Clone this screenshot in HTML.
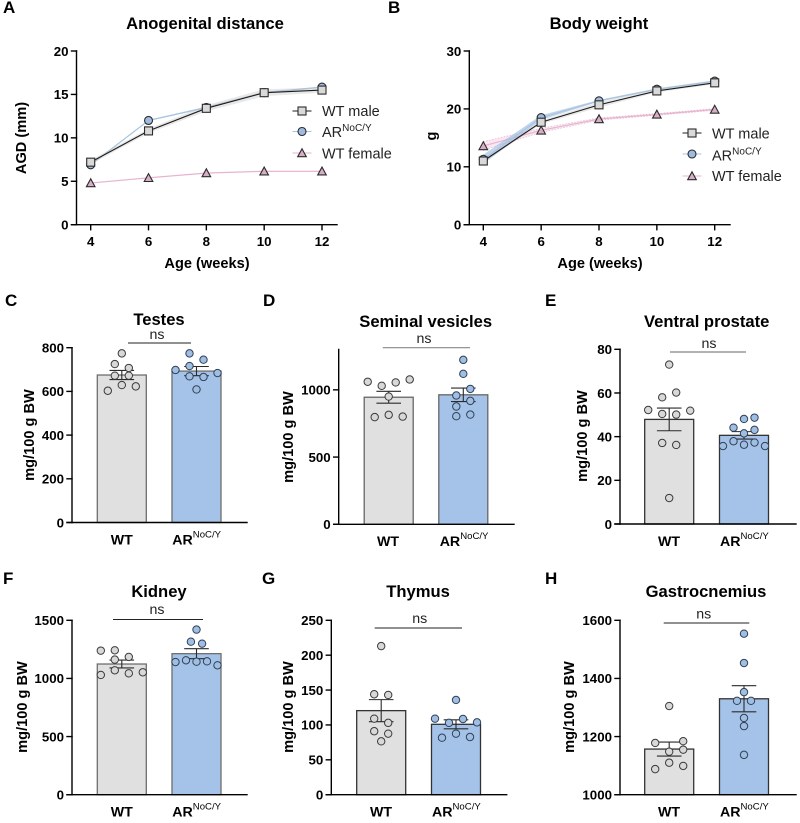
<!DOCTYPE html>
<html lang="en">
<head>
<meta charset="utf-8">
<title>Anogenital distance, body weight and organ weights</title>
<style>
html,body{margin:0;padding:0;background:#fff;}
svg{display:block;font-family:"Liberation Sans",Arial,sans-serif;fill:#000;}
.tl{font-size:17px;font-weight:bold;}
.ttl{font-size:16.6px;font-weight:bold;text-anchor:middle;}
.ax{font-size:14.6px;font-weight:bold;text-anchor:middle;}
.cat{font-size:14.2px;font-weight:bold;}
.sup{font-size:9.6px;font-weight:normal;}
.ns{font-size:14.2px;text-anchor:middle;fill:#222;}
.lg{font-size:14.5px;fill:#222;}
.lgsup{font-size:10px;}
.tick{font-size:13.3px;font-weight:bold;}
</style>
</head>
<body>
<svg id="figure" width="800" height="823" viewBox="0 0 800 823" xmlns="http://www.w3.org/2000/svg">
<rect width="800" height="823" fill="#fff"/>

<g id="panel-a">
  <text class="tl" x="3" y="13">A</text>
  <text class="ttl" x="205" y="29">Anogenital distance</text>
  <text class="ax" transform="translate(26,138) rotate(-90)">AGD (mm)</text>
  <text class="ax" x="207" y="268">Age (weeks)</text>
  <text class="lg" x="322" y="116">WT male</text>
  <text class="lg" x="322" y="137">AR<tspan class="lgsup" dy="-6">NoC/Y</tspan></text>
  <text class="lg" x="322" y="158.5">WT female</text>
</g>

<g id="panel-b">
  <text class="tl" x="388" y="13">B</text>
  <text class="ttl" x="599" y="29">Body weight</text>
  <text class="ax" transform="translate(436,136) rotate(-90)">g</text>
  <text class="ax" x="600" y="268">Age (weeks)</text>
  <text class="lg" x="712" y="138.5">WT male</text>
  <text class="lg" x="712" y="160.5">AR<tspan class="lgsup" dy="-6">NoC/Y</tspan></text>
  <text class="lg" x="712" y="181">WT female</text>
</g>

<g id="panel-c">
  <text class="tl" x="5" y="306">C</text>
  <text class="ttl" x="159" y="325">Testes</text>
  <text class="ax" transform="translate(34,435) rotate(-90)">mg/100 g BW</text>
  <text class="cat" x="121.8" y="544.5" text-anchor="middle">WT</text>
  <text class="cat" x="172.3" y="544.5">AR<tspan class="sup" dy="-7">NoC/Y</tspan></text>
  <line x1="128" x2="191" y1="343" y2="343" stroke="#222" stroke-width="1"/>
  <text class="ns" x="157" y="339">ns</text>
</g>

<g id="panel-d">
  <text class="tl" x="263" y="306">D</text>
  <text class="ttl" x="425.7" y="327">Seminal vesicles</text>
  <text class="ax" transform="translate(293,437) rotate(-90)">mg/100 g BW</text>
  <text class="cat" x="388" y="546" text-anchor="middle">WT</text>
  <text class="cat" x="439.7" y="546">AR<tspan class="sup" dy="-7">NoC/Y</tspan></text>
  <line x1="382.7" x2="470" y1="347.7" y2="347.7" stroke="#888" stroke-width="1.2"/>
  <text class="ns" x="424" y="343">ns</text>
</g>

<g id="panel-e">
  <text class="tl" x="545" y="306">E</text>
  <text class="ttl" x="706.7" y="327">Ventral prostate</text>
  <text class="ax" transform="translate(587,436) rotate(-90)">mg/100 g BW</text>
  <text class="cat" x="669" y="546" text-anchor="middle">WT</text>
  <text class="cat" x="720" y="546">AR<tspan class="sup" dy="-7">NoC/Y</tspan></text>
  <line x1="670" x2="746" y1="352" y2="352" stroke="#666" stroke-width="1"/>
  <text class="ns" x="709" y="348">ns</text>
</g>

<g id="panel-f">
  <text class="tl" x="3" y="584">F</text>
  <text class="ttl" x="159" y="597">Kidney</text>
  <text class="ax" transform="translate(27,707) rotate(-90)">mg/100 g BW</text>
  <text class="cat" x="121.8" y="816.5" text-anchor="middle">WT</text>
  <text class="cat" x="172.3" y="816.5">AR<tspan class="sup" dy="-7">NoC/Y</tspan></text>
  <line x1="113" x2="203" y1="619.5" y2="619.5" stroke="#222" stroke-width="1"/>
  <text class="ns" x="157" y="614">ns</text>
</g>

<g id="panel-g">
  <text class="tl" x="262" y="584">G</text>
  <text class="ttl" x="418" y="597">Thymus</text>
  <text class="ax" transform="translate(293,707) rotate(-90)">mg/100 g BW</text>
  <text class="cat" x="381" y="816.5" text-anchor="middle">WT</text>
  <text class="cat" x="432" y="816.5">AR<tspan class="sup" dy="-7">NoC/Y</tspan></text>
  <line x1="374.7" x2="462" y1="628" y2="628" stroke="#222" stroke-width="1"/>
  <text class="ns" x="419.7" y="623">ns</text>
</g>

<g id="panel-h">
  <text class="tl" x="545" y="584">H</text>
  <text class="ttl" x="706" y="597">Gastrocnemius</text>
  <text class="ax" transform="translate(574,707) rotate(-90)">mg/100 g BW</text>
  <text class="cat" x="669" y="816.5" text-anchor="middle">WT</text>
  <text class="cat" x="720" y="816.5">AR<tspan class="sup" dy="-7">NoC/Y</tspan></text>
  <line x1="663.7" x2="749.3" y1="623" y2="623" stroke="#222" stroke-width="1"/>
  <text class="ns" x="703.7" y="618.5">ns</text>
</g>
</svg>

<script>
// ---- Line chart data ----
const ages = [4, 6, 8, 10, 12];
const agdTicks = [0, 5, 10, 15, 20];
const agdMale = [7.2, 10.8, 13.4, 15.2, 15.5];
const agdMaleSem = [0.25, 0.25, 0.35, 0.4, 0.3];
const agdAr = [6.9, 12.0, 13.5, 15.2, 15.85];
const agdArSem = [0.08, 0.08, 0.1, 0.1, 0.08];
const agdFemale = [4.8, 5.4, 5.95, 6.15, 6.15];
const agdFemaleSem = [0.08, 0.08, 0.08, 0.08, 0.08];

const bwTicks = [0, 10, 20, 30];
const bwMale = [11.0, 17.7, 20.7, 23.1, 24.5];
const bwMaleSem = [0.3, 0.3, 0.45, 0.25, 0.25];
const bwAr = [11.3, 18.5, 21.4, 23.4, 24.8];
const bwArSem = [0.8, 0.4, 0.15, 0.15, 0.15];
const bwFemale = [13.6, 16.3, 18.25, 19.05, 19.9];
const bwFemaleSem = [0.75, 0.35, 0.2, 0.15, 0.15];

// ---- Bar chart data (values; slots = swarm column index of each dot) ----
const testesTicks = [0, 200, 400, 600, 800];
const testesMeans = [675, 693];
const testesSems = [21, 21];
const testesWt = [774, 725, 707, 672, 672, 603, 629, 623];
const testesWtSlots = [0, -1, 1, -1, 1, -2, 0, 2];
const testesAr = [774, 745, 716, 698, 684, 669, 666, 609];
const testesArSlots = [-1, 1, -1, -3, 3, -1, 1, 0];

const vesiclesTicks = [0, 500, 1000];
const vesiclesMeans = [945, 963];
const vesiclesSems = [44, 50];
const vesiclesWt = [1060, 1030, 1055, 1077, 950, 797, 814, 801];
const vesiclesWtSlots = [-3, -1, 1, 3, 0, -2, 0, 2];
const vesiclesAr = [1223, 1119, 1007, 958, 918, 876, 804, 816];
const vesiclesArSlots = [0, 0, 1, -1, 1, -1, -1, 1];

const prostateTicks = [0, 20, 40, 60, 80];
const prostateMeans = [47.9, 40.6];
const prostateSems = [5.2, 1.7];
const prostateWt = [73, 60.2, 58, 52.2, 51.9, 50.4, 50.1, 37.1, 36.2, 11.9];
const prostateWtSlots = [0, 1, -1, -3, 3, -1, 1, -1, 1, 0];
const prostateAr = [48.7, 48.1, 44.1, 43.1, 41.5, 37.9, 37.3, 36.3, 35.7, 35.7];
const prostateArSlots = [1.5, 0, -1.5, 1.5, 0, -1.5, 1.5, 0, -3, 3];

const kidneyTicks = [0, 500, 1000, 1500];
const kidneyMeans = [1124, 1213];
const kidneySems = [34, 43];
const kidneyWt = [1239, 1242, 1185, 1162, 1070, 1053, 1044, 1030];
const kidneyWtSlots = [-3, -1, 1, -1, -1, 3, 1, -3];
const kidneyAr = [1420, 1316, 1299, 1141, 1156, 1144, 1147, 1113];
const kidneyArSlots = [0, -0.8, 0.8, -3, -1.5, 0, 1.5, 3];

const thymusTicks = [0, 50, 100, 150, 200, 250];
const thymusMeans = [120.5, 100.9];
const thymusSems = [15.8, 6.5];
const thymusWt = [213, 144, 143, 109, 103, 91, 87.5, 76.5];
const thymusWtSlots = [0, -1, 1, -1, 1, -1, 1, 0];
const thymusAr = [135.8, 109, 108.5, 103, 103.7, 87.5, 81.7, 82.7];
const thymusArSlots = [0, -3, 1, -1, 3, 0, -2, 2];

const gastrocTicks = [1000, 1200, 1400, 1600];
const gastrocMeans = [1157, 1330];
const gastrocSems = [24, 45];
const gastrocWt = [1305, 1178, 1184, 1155, 1148, 1110, 1099, 1088];
const gastrocWtSlots = [0, -2, 2, 2, 0, 0, 2, -2];
const gastrocAr = [1554, 1453, 1353, 1323, 1323, 1264, 1236, 1137];
const gastrocArSlots = [0, 0, 0, -1, 1, 0, 0, 0];

// ---- Drawing helpers ----
const SVG_NS = 'http://www.w3.org/2000/svg';
function shape(tag, parent, attrs) {
  const el = document.createElementNS(SVG_NS, tag);
  for (const k in attrs) el.setAttribute(k, attrs[k]);
  parent.appendChild(el);
  return el;
}
function linear(d0, d1, r0, r1) {
  return function (v) { return r0 + (v - d0) / (d1 - d0) * (r1 - r0); };
}
function axisLine(g, x1, y1, x2, y2, name) {
  const el = shape('line', g, { x1: x1, y1: y1, x2: x2, y2: y2, stroke: '#000', 'stroke-width': 1.4, 'stroke-linecap': 'square' });
  
  
}
function tickLabel(g, x, y, anchor, label, name) {
  const el = shape('text', g, { x: x, y: y, 'text-anchor': anchor, 'class': 'tick' });
  el.textContent = label;
  
  
}
function yAxis(g, axisX, yTop, yBase, axisEnd, ticks, yScale) {
  axisLine(g, axisX, yTop, axisX, yBase, 'y-axis');
  axisLine(g, axisX - 5, yBase, axisEnd, yBase, 'x-axis');
  ticks.forEach(function (t) {
    axisLine(g, axisX - 5, yScale(t), axisX, yScale(t), 'y-tick');
    tickLabel(g, axisX - 8, yScale(t) + 4.8, 'end', String(t), 'y-tick-label');
  });
}

// Line panels
function marker(g, kind, x, y, name) {
  let el;
  const style = { stroke: '#2b2b2b', 'stroke-width': 1.1 };
  if (kind === 'square') {
    el = shape('rect', g, Object.assign({ x: x - 4, y: y - 4, width: 8, height: 8, fill: '#d9d9d9' }, style));
  } else if (kind === 'circle') {
    el = shape('circle', g, Object.assign({ cx: x, cy: y, r: 4, fill: '#9fbce0' }, style));
  } else {
    const p = (x - 4.3) + ',' + (y + 3.7) + ' ' + (x + 4.3) + ',' + (y + 3.7) + ' ' + x + ',' + (y - 4.2);
    el = shape('polygon', g, Object.assign({ points: p, fill: '#d8aec6' }, style));
  }
  
  
}
function series(g, xs, values, sems, xScale, yScale, lineColor, bandColor, kind, name, dotted) {
  const upper = xs.map(function (x, i) { return xScale(x) + ',' + yScale(values[i] + sems[i]); });
  const lower = xs.map(function (x, i) { return xScale(x) + ',' + yScale(values[i] - sems[i]); }).reverse();
  const band = shape('polygon', g, { points: upper.concat(lower).join(' '), fill: bandColor, stroke: dotted ? lineColor : 'none', 'stroke-width': dotted ? 0.7 : 0, 'stroke-dasharray': dotted ? '1.5 1.5' : 'none' });
  
  
  const pts = xs.map(function (x, i) { return xScale(x) + ',' + yScale(values[i]); }).join(' ');
  const line = shape('polyline', g, { points: pts, fill: 'none', stroke: lineColor, 'stroke-width': 1.1 });
  
  
}
function seriesMarkers(g, xs, values, xScale, yScale, kind, name) {
  xs.forEach(function (x, i) { marker(g, kind, xScale(x), yScale(values[i]), name + '-point'); });
}
function legendKey(g, x, y, kind, color, name) {
  const el = shape('line', g, { x1: x - 9.5, x2: x + 9.5, y1: y, y2: y, stroke: color, 'stroke-width': 1.1 });
  
  
  marker(g, kind, x, y, name + '-legend-marker');
}
function linePanel(id, box, ymax, ticks, male, maleSem, ar, arSem, female, femaleSem, legendX, legendYs, dottedFemale) {
  const g = document.getElementById(id);
  const xScale = linear(4, 12, box.x4, box.x12);
  const yScale = linear(0, ymax, box.yBase, box.yTop);
  yAxis(g, box.axisX, box.yTop, box.yBase, box.axisEnd, ticks, yScale);
  ages.forEach(function (a) {
    axisLine(g, xScale(a), box.yBase, xScale(a), box.yBase + 5, 'x-tick');
    tickLabel(g, xScale(a), 246, 'middle', String(a), 'x-tick-label');
  });
  series(g, ages, female, femaleSem, xScale, yScale, '#e6b3cd', 'rgba(235,180,210,.3)', 'triangle', 'wt-female', dottedFemale);
  series(g, ages, ar, arSem, xScale, yScale, '#a8c4df', 'rgba(150,185,225,.6)', 'circle', 'ar');
  series(g, ages, male, maleSem, xScale, yScale, '#1d1d1d', 'rgba(190,190,190,.35)', 'square', 'wt-male');
  seriesMarkers(g, ages, female, xScale, yScale, 'triangle', 'wt-female');
  seriesMarkers(g, ages, ar, xScale, yScale, 'circle', 'ar');
  seriesMarkers(g, ages, male, xScale, yScale, 'square', 'wt-male');
  legendKey(g, legendX, legendYs[0], 'square', '#1d1d1d', 'wt-male');
  legendKey(g, legendX, legendYs[1], 'circle', '#a8c4df', 'ar');
  legendKey(g, legendX, legendYs[2], 'triangle', '#e6b3cd', 'wt-female');
}

// Bar panels
const SLOT = 7;
function barGroup(g, cx, yBase, yScale, mean, sem, values, slots, fill, stroke, dotFill, dotStroke, name) {
  const top = yScale(mean);
  const bar = shape('rect', g, { x: cx - 24.5, y: top, width: 49, height: yBase - top, fill: fill, stroke: stroke, 'stroke-width': 1.3 });
  
  
  const hi = yScale(mean + sem), lo = yScale(mean - sem);
  [[cx, hi, cx, lo], [cx - 12.3, hi, cx + 12.3, hi], [cx - 12.3, lo, cx + 12.3, lo]].forEach(function (s) {
    const e = shape('line', g, { x1: s[0], y1: s[1], x2: s[2], y2: s[3], stroke: '#2a2a2a', 'stroke-width': 1.1 });
    
    
  });
  values.forEach(function (v, i) {
    const d = shape('circle', g, { cx: cx + slots[i] * SLOT, cy: yScale(v), r: 3.7, fill: dotFill, stroke: dotStroke, 'stroke-width': 1 });
    
    
  });
}
function barPanel(id, box, dmin, dmax, ticks, means, sems, wt, wtSlots, ar, arSlots, edge) {
  const g = document.getElementById(id);
  const yScale = linear(dmin, dmax, box.yBase, box.yTop);
  barGroup(g, box.wtX, box.yBase, yScale, means[0], sems[0], wt, wtSlots, '#e0e0e0', edge, '#d8d8d8', '#3a3a3a', 'wt');
  barGroup(g, box.arX, box.yBase, yScale, means[1], sems[1], ar, arSlots, '#a5c3e8', edge, '#a0bde2', '#2f4058', 'ar');
  yAxis(g, box.axisX, box.yTop, box.yBase, box.axisEnd, ticks, yScale);
}

// ---- Render ----
linePanel('panel-a', { axisX: 76.5, x4: 90.7, x12: 322, yTop: 51, yBase: 224.7, axisEnd: 337 }, 20, agdTicks,
  agdMale, agdMaleSem, agdAr, agdArSem, agdFemale, agdFemaleSem, 302, [111, 131.5, 153], false);
linePanel('panel-b', { axisX: 469.3, x4: 483.3, x12: 714.7, yTop: 51, yBase: 224.7, axisEnd: 730 }, 30, bwTicks,
  bwMale, bwMaleSem, bwAr, bwArSem, bwFemale, bwFemaleSem, 692, [133, 154, 176], true);

barPanel('panel-c', { axisX: 72, yTop: 347.7, yBase: 522.5, axisEnd: 247, wtX: 121.8, arX: 196.5 }, 0, 800, testesTicks,
  testesMeans, testesSems, testesWt, testesWtSlots, testesAr, testesArSlots, '#6e6e6e');
barPanel('panel-d', { axisX: 338.7, yTop: 349.5, yBase: 524.3, axisEnd: 514, wtX: 388.7, arX: 463.3 }, 0, 1300, vesiclesTicks,
  vesiclesMeans, vesiclesSems, vesiclesWt, vesiclesWtSlots, vesiclesAr, vesiclesArSlots, '#666');
barPanel('panel-e', { axisX: 620, yTop: 349.3, yBase: 524, axisEnd: 796, wtX: 669.2, arX: 744 }, 0, 80, prostateTicks,
  prostateMeans, prostateSems, prostateWt, prostateWtSlots, prostateAr, prostateArSlots, '#333');
barPanel('panel-f', { axisX: 72, yTop: 620.3, yBase: 794.7, axisEnd: 247, wtX: 121.8, arX: 196.5 }, 0, 1500, kidneyTicks,
  kidneyMeans, kidneySems, kidneyWt, kidneyWtSlots, kidneyAr, kidneyArSlots, '#6e6e6e');
barPanel('panel-g', { axisX: 331.3, yTop: 620.3, yBase: 794.7, axisEnd: 506.7, wtX: 381.2, arX: 456 }, 0, 250, thymusTicks,
  thymusMeans, thymusSems, thymusWt, thymusWtSlots, thymusAr, thymusArSlots, '#333');
barPanel('panel-h', { axisX: 620, yTop: 620.3, yBase: 794.7, axisEnd: 796, wtX: 669.2, arX: 744 }, 1000, 1600, gastrocTicks,
  gastrocMeans, gastrocSems, gastrocWt, gastrocWtSlots, gastrocAr, gastrocArSlots, '#333');
</script>
</body>
</html>
